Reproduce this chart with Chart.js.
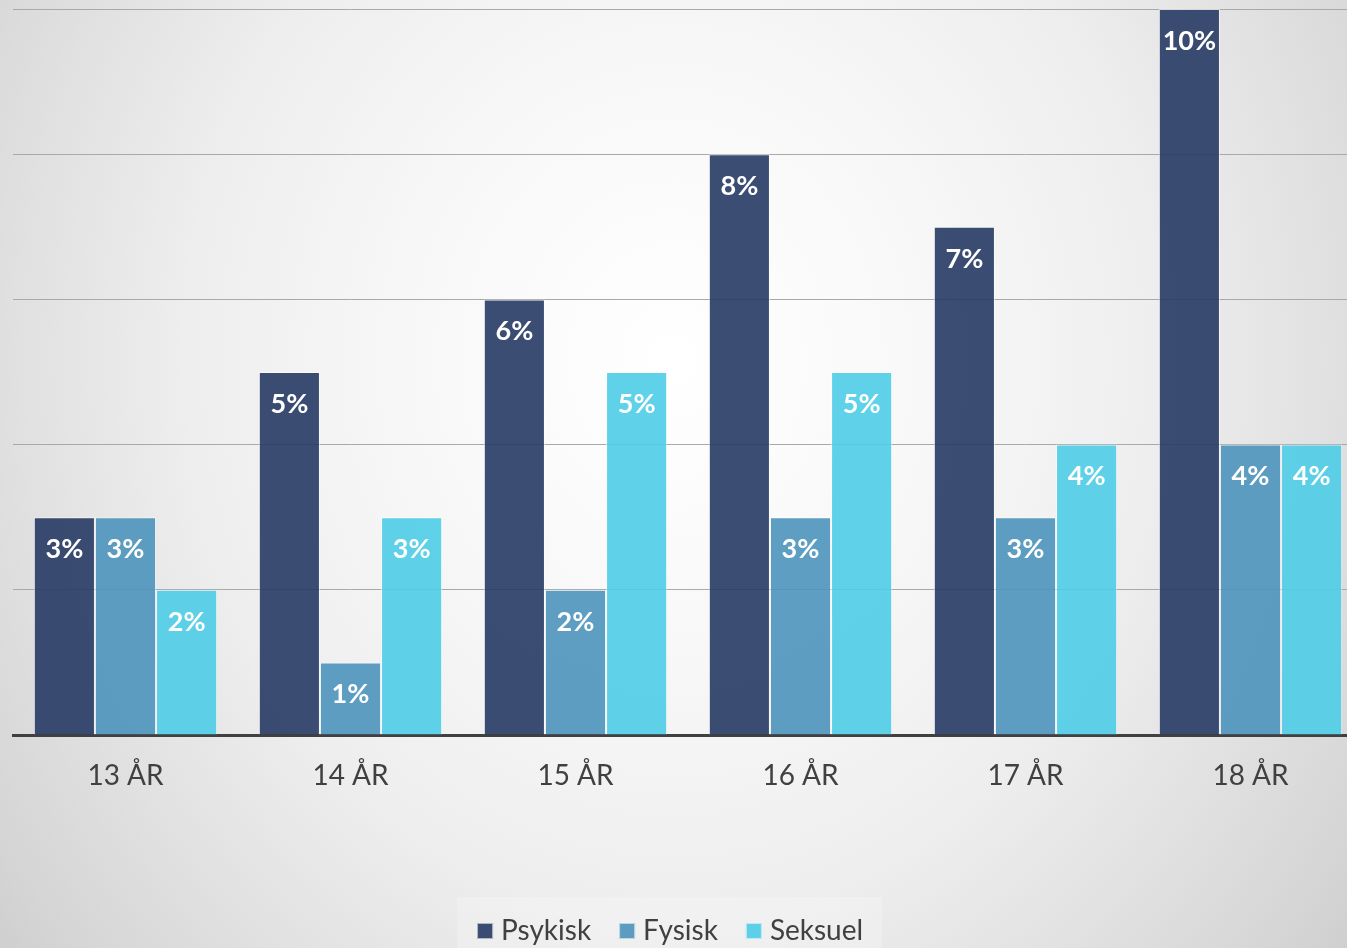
<!DOCTYPE html>
<html>
<head>
<meta charset="utf-8">
<script src="https://cdn.jsdelivr.net/npm/chart.js@4.4.1/dist/chart.umd.min.js"></script>
<style>
  html, body { margin: 0; padding: 0; width: 1347px; height: 948px; overflow: hidden; }
  body {
    background: radial-gradient(ellipse 62% 100% at 50% 38%, #ffffff 0%, #f8f8f8 30%, #eeeeee 58%, #e1e1e1 78%, #d5d5d5 95%, #c6c6c6 112%);
  }
  #wrap { position: absolute; left: 0; top: 0; width: 1364px; height: 960px; }
</style>
</head>
<body>
<div id="wrap"><canvas id="c" width="1364" height="960"></canvas></div>
<script>
const categories = ["13 ÅR", "14 ÅR", "15 ÅR", "16 ÅR", "17 ÅR", "18 ÅR"];
const seriesNames = ["Psykisk", "Fysisk", "Seksuel"];
const psykisk = [3, 5, 6, 8, 7, 10];
const fysisk  = [3, 1, 2, 3, 3, 4];
const seksuel = [2, 3, 5, 5, 4, 4];
const yTicks = [0, 2, 4, 6, 8, 10];

const colors = ["rgba(38,58,100,0.9)", "rgba(77,147,187,0.9)", "rgba(78,204,231,0.9)"];
const legendColors = ["#3a4c72", "#5d9cc0", "#5ecfe8"];
const FONT = "Lato, 'Open Sans', sans-serif";

const labelPlugin = {
  id: 'barLabels',
  afterDatasetsDraw(chart) {
    const ctx = chart.ctx;
    ctx.save();
    ctx.fillStyle = '#ffffff';
    ctx.font = "bold 27px " + FONT;
    ctx.textAlign = 'center';
    ctx.textBaseline = 'middle';
    chart.data.datasets.forEach((ds, di) => {
      const meta = chart.getDatasetMeta(di);
      meta.data.forEach((bar, i) => {
        ctx.fillText(ds.data[i] + '%', bar.x, bar.y + 32);
      });
    });
    ctx.restore();
  }
};

const legendDeco = {
  id: 'legendDeco',
  beforeDraw(chart) {
    const lg = chart.legend;
    if (!lg || !lg.legendHitBoxes || !lg.legendHitBoxes.length) return;
    const hb = lg.legendHitBoxes;
    const left = hb[0].left - 20;
    const ctx = chart.ctx;
    ctx.save();
    ctx.fillStyle = 'rgba(255,255,255,0.22)';
    ctx.fillRect(left, 897, 425, 80);
    ctx.restore();
  },
  afterDraw(chart) {
    const lg = chart.legend;
    if (!lg || !lg.legendHitBoxes) return;
    const ctx = chart.ctx;
    ctx.save();
    lg.legendHitBoxes.forEach((h, i) => {
      const cy = h.top + h.height / 2;
      ctx.fillStyle = legendColors[i];
      ctx.fillRect(h.left, cy - 8, 16, 16);
      ctx.strokeStyle = 'rgba(255,255,255,0.6)';
      ctx.lineWidth = 1;
      ctx.strokeRect(h.left + 0.5, cy - 7.5, 15, 15);
    });
    ctx.restore();
  }
};

new Chart(document.getElementById('c'), {
  type: 'bar',
  data: {
    labels: categories,
    datasets: [
      { label: seriesNames[0], data: psykisk, backgroundColor: colors[0] },
      { label: seriesNames[1], data: fysisk, backgroundColor: colors[1] },
      { label: seriesNames[2], data: seksuel, backgroundColor: colors[2] }
    ].map(d => Object.assign(d, {
      borderColor: 'rgba(255,255,255,0.55)',
      borderWidth: 1,
      categoryPercentage: 0.815,
      barPercentage: 1.0
    }))
  },
  options: {
    responsive: false,
    animation: false,
    events: [],
    layout: { padding: { left: 13, right: 1, top: 9, bottom: 5 } },
    plugins: {
      title: { display: false },
      tooltip: { enabled: false },
      legend: {
        position: 'bottom',
        labels: {
          color: '#404040',
          font: { family: FONT, size: 28 },
          boxWidth: 10,
          boxHeight: 16,
          padding: 28,
          generateLabels(chart) {
            const n = chart.data.datasets.length;
            return chart.data.datasets.map((ds, i) => ({
              text: i === n - 1 ? ds.label + '\u00a0\u00a0\u00a0\u00a0\u00a0' : ds.label,
              fillStyle: 'rgba(0,0,0,0)',
              strokeStyle: 'rgba(0,0,0,0)',
              lineWidth: 0,
              fontColor: '#404040',
              datasetIndex: i,
              hidden: false
            }));
          }
        }
      }
    },
    scales: {
      x: {
        grid: { display: false, drawTicks: false },
        border: { display: true, color: '#404040', width: 3 },
        ticks: { color: '#404040', font: { family: FONT, size: 28 }, padding: 24 },
        afterFit(scale) { scale.height = 154; }
      },
      y: {
        min: 0, max: 10,
        afterBuildTicks(scale) { scale.ticks = yTicks.map(v => ({ value: v })); },
        grid: { color: '#a9a9a9', lineWidth: 1, drawTicks: false },
        border: { display: false },
        ticks: { display: false }
      }
    }
  },
  plugins: [legendDeco, labelPlugin]
});
</script>
</body>
</html>
